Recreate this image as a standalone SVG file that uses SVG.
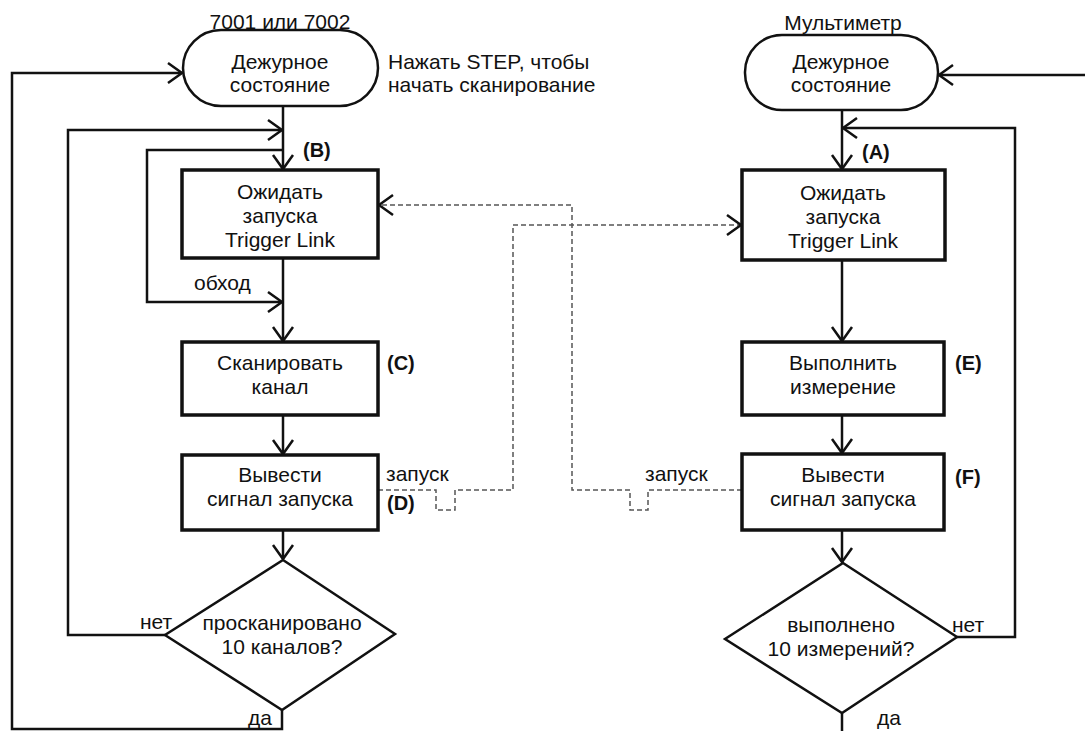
<svg xmlns="http://www.w3.org/2000/svg" width="1085" height="731" viewBox="0 0 1085 731">
<style>
text{font-family:"Liberation Sans",Arial,sans-serif;font-size:21px;fill:#111}
.c{text-anchor:middle}
.b{font-weight:bold;font-size:20px}
.box{fill:#fff;stroke:#111;stroke-width:3.5}
.term{fill:#fff;stroke:#111;stroke-width:2.5}
.dia{fill:#fff;stroke:#111;stroke-width:2.5}
.ln{fill:none;stroke:#111;stroke-width:2.5}
.ar{marker-end:url(#arr)}
.dash{fill:none;stroke:#555;stroke-width:1.5;stroke-dasharray:5,3}
</style>
<defs>
<marker id="arr" markerUnits="userSpaceOnUse" markerWidth="20" markerHeight="24" viewBox="-16 -12 20 24" refX="0" refY="0" orient="auto">
<path d="M-14,-10 L0,0 L-14,10" fill="none" stroke="#111" stroke-width="2.5"/>
</marker>
</defs>
<rect width="1085" height="731" fill="#fff"/>
<g id="connectors">
<path class="ln ar" d="M283,106 V169"/>
<path class="ln ar" d="M165,635 H68 V130 H282"/>
<path class="ln ar" d="M283,150 H147 V302 H282"/>
<path class="ln ar" d="M283,258 V341"/>
<path class="ln ar" d="M283,415 V454"/>
<path class="ln ar" d="M283,530 V559"/>
<path class="ln ar" d="M282,710 V729 H12 V73 H182"/>
<path class="ln ar" d="M842,110 V169"/>
<path class="ln ar" d="M957,637 H1015 V128 H843"/>
<path class="ln ar" d="M1085,75 H939"/>
<path class="ln ar" d="M842,260 V341"/>
<path class="ln ar" d="M842,415 V453"/>
<path class="ln ar" d="M842,530 V562"/>
<path class="ln" d="M842,713 V731"/>
<path class="dash ar" d="M742,490 H648 V510 H630 V490 H572 V205 H379"/>
<path class="dash ar" d="M378,490 H436 V510 H455 V490 H513 V225 H741"/>
</g>
<g id="left-title"><text class="c" x="280" y="29">7001 или 7002</text></g>
<g id="left-standby">
<rect class="term" x="183" y="30" width="195" height="76" rx="38" ry="38"/>
<text class="c" x="280" y="69">Дежурное</text>
<text class="c" x="280" y="92">состояние</text>
</g>
<g id="step-note">
<text x="388" y="69">Нажать STEP, чтобы</text>
<text x="388" y="92">начать сканирование</text>
</g>
<g id="left-wait">
<rect class="box" x="182" y="170" width="196" height="88"/>
<text class="c" x="280" y="199">Ожидать</text>
<text class="c" x="280" y="223">запуска</text>
<text class="c" x="280" y="247">Trigger Link</text>
<text class="b" x="303" y="157">(B)</text>
</g>
<g id="bypass-label"><text x="194" y="290">обход</text></g>
<g id="scan">
<rect class="box" x="182" y="342" width="196" height="73"/>
<text class="c" x="280" y="370">Сканировать</text>
<text class="c" x="280" y="394">канал</text>
<text class="b" x="387" y="370">(C)</text>
</g>
<g id="left-trigger-out">
<rect class="box" x="182" y="455" width="196" height="75"/>
<text class="c" x="280" y="482">Вывести</text>
<text class="c" x="280" y="506">сигнал запуска</text>
<text x="386" y="481">запуск</text>
<text class="b" x="387" y="510">(D)</text>
</g>
<g id="left-decision">
<polygon class="dia" points="283,560 395,634 282,710 165,635"/>
<text class="c" x="282" y="630">просканировано</text>
<text class="c" x="282" y="654">10 каналов?</text>
<text x="140" y="629">нет</text>
<text x="248" y="725">да</text>
</g>
<g id="right-title"><text class="c" x="843" y="30">Мультиметр</text></g>
<g id="right-standby">
<rect class="term" x="745" y="35" width="193" height="75" rx="37" ry="37"/>
<text class="c" x="841" y="69">Дежурное</text>
<text class="c" x="841" y="92">состояние</text>
</g>
<g id="right-wait">
<rect class="box" x="742" y="170" width="203" height="90"/>
<text class="c" x="843" y="200">Ожидать</text>
<text class="c" x="843" y="224">запуска</text>
<text class="c" x="843" y="248">Trigger Link</text>
<text class="b" x="862" y="159">(A)</text>
</g>
<g id="measure">
<rect class="box" x="742" y="342" width="202" height="73"/>
<text class="c" x="843" y="370">Выполнить</text>
<text class="c" x="843" y="394">измерение</text>
<text class="b" x="955" y="370">(E)</text>
</g>
<g id="right-trigger-out">
<rect class="box" x="742" y="454" width="202" height="76"/>
<text class="c" x="843" y="482">Вывести</text>
<text class="c" x="843" y="506">сигнал запуска</text>
<text x="645" y="481">запуск</text>
<text class="b" x="955" y="484">(F)</text>
</g>
<g id="right-decision">
<polygon class="dia" points="843,563 957,637 842,713 725,639"/>
<text class="c" x="841" y="632">выполнено</text>
<text class="c" x="841" y="656">10 измерений?</text>
<text x="952" y="632">нет</text>
<text x="877" y="725">да</text>
</g>
</svg>
